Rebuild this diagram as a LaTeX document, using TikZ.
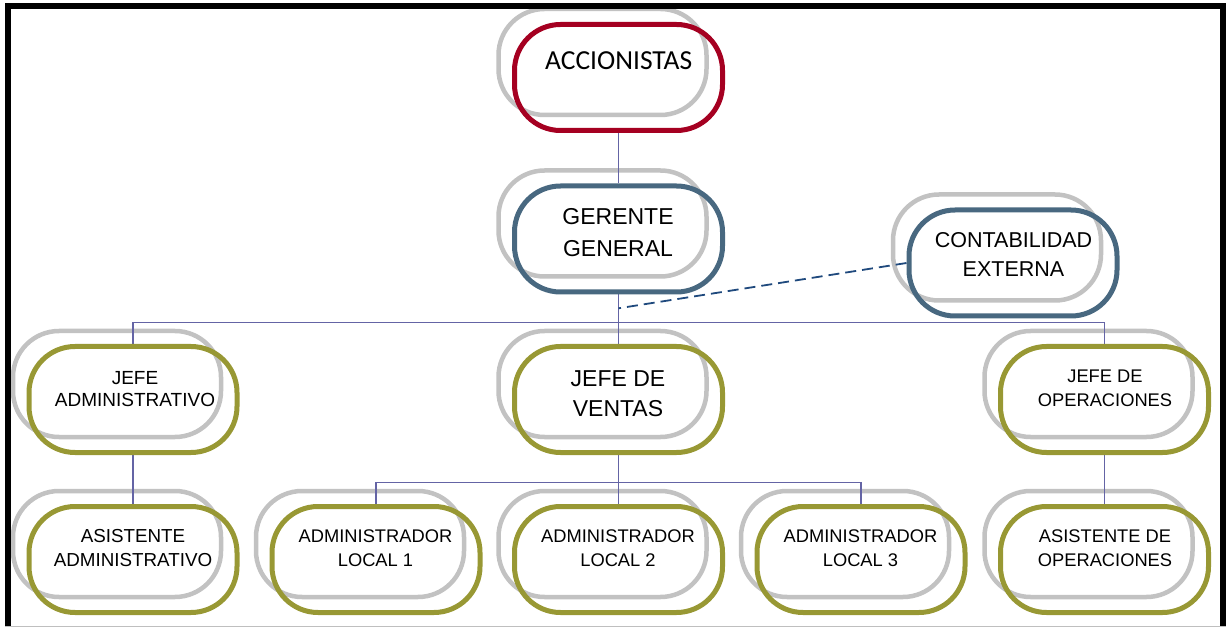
\documentclass[tikz,border=0pt]{standalone}
\usepackage{fontspec}
\setmainfont{Liberation Sans}
\newfontfamily\calibfont{Carlito}
\usetikzlibrary{backgrounds,calc}
\definecolor{accred}{RGB}{165,0,33}
\definecolor{slateb}{RGB}{72,104,128}
\definecolor{olivebox}{RGB}{152,152,52}
\definecolor{shadowgray}{RGB}{194,194,194}
\definecolor{connline}{RGB}{100,100,165}
\definecolor{dashblue}{RGB}{31,73,125}
\begin{document}
\begin{tikzpicture}[x=1pt,y=-1pt,
  orgbox/.style={draw=#1, line width=5pt, rectangle, rounded corners=46pt,
    minimum width=208pt, minimum height=106pt, inner sep=0pt},
  shadowbox/.style={orgbox=shadowgray, line width=4.5pt},
  conn/.style={draw=connline, line width=1.5pt},
  dashconn/.style={draw=dashblue, line width=1.8pt, dash pattern=on 11pt off 6pt},
  txt/.style={align=center, inner sep=0pt, text=black},
  frameline/.style={draw=black, line width=6pt, line join=miter}
]
\useasboundingbox (0,0) rectangle (1227,628);

% coloured boxes
\node[orgbox=accred]   (acc) at (618.5,77.5)  {};
\node[orgbox=slateb]   (ger) at (618.5,239)   {};
\node[orgbox=slateb]   (con) at (1013,263)    {};
\node[orgbox=olivebox] (ja)  at (133,399.5)   {};
\node[orgbox=olivebox] (jv)  at (618.5,399.5) {};
\node[orgbox=olivebox] (jo)  at (1104.5,399.5){};
\node[orgbox=olivebox] (aa)  at (133,559.5)   {};
\node[orgbox=olivebox] (l1)  at (376,559.5)   {};
\node[orgbox=olivebox] (l2)  at (618.5,559.5) {};
\node[orgbox=olivebox] (l3)  at (861,559.5)   {};
\node[orgbox=olivebox] (ao)  at (1104.5,559.5){};

\coordinate (busa) at (0,322.3);
\coordinate (busb) at (0,482.3);
\coordinate (dj) at (618.5,308.3);

\begin{scope}[on background layer]
  \foreach \n in {acc,ger,con,ja,jv,jo,aa,l1,l2,l3,ao}
    \node[shadowbox] (\n-s) at ($(\n)+(-16,-15.5)$) {};
  \draw[conn] (acc.south) -- (ger.north);
  \draw[conn] (ger.south) -- (jv.north);
  \draw[conn] (ja.north) |- (jo.north |- busa) -- (jo.north);
  \draw[conn] (jv.south) -- (l2.north);
  \draw[conn] (l1.north) |- (l3.north |- busb) -- (l3.north);
  \draw[conn] (ja.south) -- (aa.north);
  \draw[conn] (jo.south) -- (ao.north);
  \draw[dashconn] (con.west) -- (dj);
\end{scope}

% texts
\node[txt, font=\calibfont\fontsize{27.5}{33}\selectfont, anchor=base] (t-acc) at (618.7,70) {ACCIONISTAS};
\node[txt, font=\fontsize{23}{31.7}\selectfont] (t-ger) at (618,232.5) {GERENTE\\GENERAL};
\node[txt, font=\fontsize{21.5}{28.7}\selectfont] (t-con) at (1013.5,254.6) {CONTABILIDAD\\EXTERNA};
\node[txt, font=\fontsize{23}{30.6}\selectfont] (t-jv) at (618,393.7) {JEFE DE\\VENTAS};
\node[txt, font=\fontsize{19}{22}\selectfont] (t-ja) at (135,389) {JEFE\\ADMINISTRATIVO};
\node[txt, font=\fontsize{18.3}{24}\selectfont] (t-jo) at (1105,388) {JEFE DE\\OPERACIONES};
\node[txt, font=\fontsize{18.8}{24}\selectfont] (t-aa) at (133,548) {ASISTENTE\\ADMINISTRATIVO};
\node[txt, font=\fontsize{18.3}{24}\selectfont] (t-l1) at (375.5,548) {ADMINISTRADOR\\LOCAL 1};
\node[txt, font=\fontsize{18.3}{24}\selectfont] (t-l2) at (618,548) {ADMINISTRADOR\\LOCAL 2};
\node[txt, font=\fontsize{18.3}{24}\selectfont] (t-l3) at (860.5,548) {ADMINISTRADOR\\LOCAL 3};
\node[txt, font=\fontsize{18.3}{24}\selectfont] (t-ao) at (1105,548) {ASISTENTE DE\\OPERACIONES};

% frame
\draw[frameline] (8,626) -- (8,6.3) -- (1222.7,6.3) -- (1222.7,626);
\draw[draw=black!25, line width=1.2pt] (5,626.4) -- (1226,626.4);
\end{tikzpicture}
\end{document}
